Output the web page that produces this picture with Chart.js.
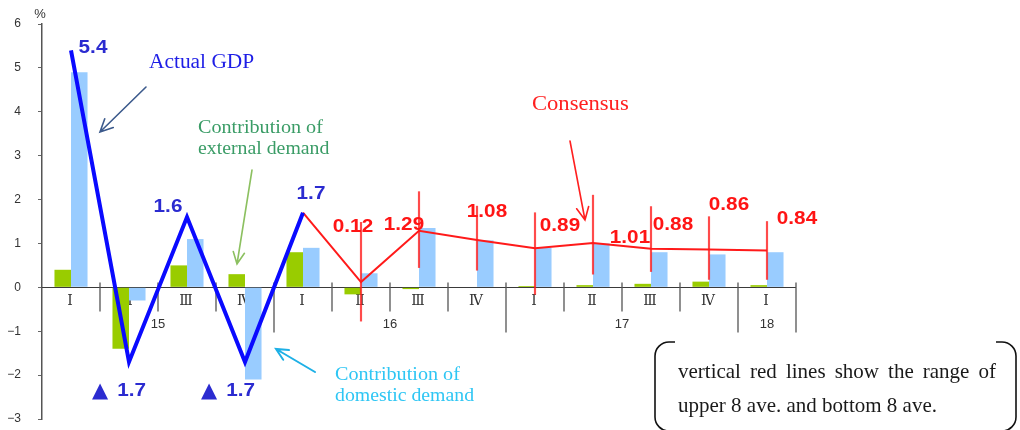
<!DOCTYPE html>
<html>
<head>
<meta charset="utf-8">
<title>GDP vs consensus</title>
<script src="https://cdn.jsdelivr.net/npm/chart.js@4.4.1/dist/chart.umd.min.js"></script>
<style>
  html, body { margin: 0; padding: 0; background: #ffffff; }
  #wrap { width: 1020px; height: 430px; }
</style>
</head>
<body>
<div id="wrap"><canvas id="chart" width="1020" height="430"></canvas></div>
<script>
// Quarter labels along the category axis; a new year starts at each "Ⅰ"
const quarters = ['Ⅰ', 'Ⅱ', 'Ⅲ', 'Ⅳ', 'Ⅰ', 'Ⅱ', 'Ⅲ', 'Ⅳ', 'Ⅰ', 'Ⅱ', 'Ⅲ', 'Ⅳ', 'Ⅰ'];
const years = ['15', '16', '17', '18'];

// Contributions to growth (% points)
const externalDemand = [0.4, -1.4, 0.5, 0.3, 0.8, -0.16, -0.04, 0, 0.03, 0.05, 0.08, 0.13, 0.05];
const domesticDemand = [4.9, -0.3, 1.1, -2.1, 0.9, 0.32, 1.35, 1.07, 0.9, 1.0, 0.8, 0.75, 0.8];

// Actual GDP (annualised q/q, %)
const actualGdp = [5.4, -1.7, 1.6, -1.7, 1.7];

// Consensus forecasts for the following quarters, with the spread of forecasters
const consensus = [0.12, 1.29, 1.08, 0.89, 1.01, 0.88, 0.86, 0.84];
const rangeHigh = [1.48, 2.18, 1.85, 1.7, 2.1, 1.84, 1.61, 1.5];
const rangeLow = [-0.77, 0.45, 0.39, -0.16, 0.3, 0.36, 0.18, 0.18];

// y-axis ticks
const yTicks = [-3, -2, -1, 0, 1, 2, 3, 4, 5, 6];

// ---- series built for the chart ----
const n = quarters.length;
const firstForecast = actualGdp.length;
const gdpLine = quarters.map((_, i) => i < actualGdp.length ? actualGdp[i] : null);
const consensusLine = quarters.map((_, i) => {
  if (i === firstForecast - 1) return actualGdp[i];
  if (i >= firstForecast) return consensus[i - firstForecast];
  return null;
});
const rangeBars = quarters.map((_, i) =>
  i >= firstForecast ? [rangeLow[i - firstForecast], rangeHigh[i - firstForecast]] : null);

// label offsets (px) from each point
const gdpLabelOffsets = [[22, -4], [-10, 28], [-19, -12], [-17, 28], [8, -20]];
const consensusLabelOffsets = [[-8, -55], [-15, -6], [10, -28], [25, -22], [37, -5], [22, -24], [20, -45], [30, -31]];

const NUM_FONT = 'bold 18px "Liberation Sans", Arial, sans-serif';
const TRI_FONT = '21px "DejaVu Sans", sans-serif';
const STRETCH = 1.15;

// text drawn with a horizontal stretch
function wideText(ctx, text, x, y, sx) {
  ctx.save();
  ctx.translate(x, y);
  ctx.scale(sx, 1);
  ctx.fillText(text, 0, 0);
  ctx.restore();
}

// GDP value label; negatives are written with a leading triangle
function gdpLabel(ctx, v, cx, cy) {
  const num = Math.abs(v).toFixed(1);
  ctx.save();
  ctx.textBaseline = 'alphabetic';
  ctx.textAlign = 'left';
  ctx.font = NUM_FONT;
  const numW = ctx.measureText(num).width * STRETCH;
  const base = cy + 6.5;
  if (v >= 0) {
    wideText(ctx, num, cx - numW / 2, base, STRETCH);
  } else {
    ctx.font = TRI_FONT;
    const triW = ctx.measureText('▲').width;
    const gap = 9;
    const x0 = cx - (triW + gap + numW) / 2;
    ctx.fillText('▲', x0, base + 1);
    ctx.font = NUM_FONT;
    wideText(ctx, num, x0 + triW + gap, base, STRETCH);
  }
  ctx.restore();
}

function arrow(ctx, x1, y1, x2, y2, color, width, head) {
  const a = Math.atan2(y2 - y1, x2 - x1);
  const h = head || 13;
  ctx.save();
  ctx.strokeStyle = color;
  ctx.lineWidth = width;
  ctx.lineCap = 'round';
  ctx.beginPath();
  ctx.moveTo(x1, y1);
  ctx.lineTo(x2, y2);
  ctx.moveTo(x2 - h * Math.cos(a - 0.45), y2 - h * Math.sin(a - 0.45));
  ctx.lineTo(x2, y2);
  ctx.lineTo(x2 - h * Math.cos(a + 0.45), y2 - h * Math.sin(a + 0.45));
  ctx.stroke();
  ctx.restore();
}

// words spread to fill the given width (never tighter than a plain space)
function justifiedLine(ctx, text, x, y, width, sx) {
  const words = text.split(' ');
  const wWidth = w => ctx.measureText(w).width * sx;
  const total = words.reduce((s, w) => s + wWidth(w), 0);
  const space = wWidth(' ');
  const gap = Math.max(space, (width - total) / (words.length - 1));
  let cx = x;
  words.forEach(w => {
    wideText(ctx, w, cx, y, sx);
    cx += wWidth(w) + gap;
  });
}

// Category axis drawn on the zero line: separators, quarter and year labels
const quarterAxis = {
  id: 'quarterAxis',
  beforeDatasetsDraw(chart) {
    const { ctx, scales: { x, y } } = chart;
    const y0 = Math.round(y.getPixelForValue(0)) + 0.5;
    const half = (x.getPixelForValue(1) - x.getPixelForValue(0)) / 2;
    ctx.save();
    ctx.strokeStyle = '#3a3a3a';
    ctx.lineWidth = 1;
    ctx.beginPath();
    ctx.moveTo(x.left, y0);
    ctx.lineTo(x.right, y0);
    ctx.stroke();

    ctx.strokeStyle = '#555';
    ctx.lineWidth = 1.3;
    ctx.beginPath();
    quarters.forEach((q, i) => {
      const xr = Math.round(x.getPixelForValue(i) + half);
      const yearEnd = i === n - 1 || quarters[i + 1] === 'Ⅰ';
      ctx.moveTo(xr, y0 - 5);
      ctx.lineTo(xr, y0 + (yearEnd ? 45 : 24));
    });
    ctx.stroke();

    ctx.fillStyle = '#333';
    ctx.textAlign = 'center';
    ctx.textBaseline = 'middle';
    ctx.font = '14px "DejaVu Serif", "Liberation Serif", serif';
    quarters.forEach((q, i) => ctx.fillText(q, x.getPixelForValue(i) - 1, y0 + 14));

    // group quarters into years
    const groups = [];
    quarters.forEach((q, i) => {
      if (q === 'Ⅰ' || groups.length === 0) groups.push([i, i]);
      else groups[groups.length - 1][1] = i;
    });
    ctx.font = '13px "Liberation Sans", Arial, sans-serif';
    groups.forEach((g, k) => {
      const cx = (x.getPixelForValue(g[0]) + x.getPixelForValue(g[1])) / 2;
      ctx.fillText(years[k], cx, y0 + 37);
    });
    ctx.restore();
  }
};

// Value labels, callouts and the note box
const annotations = {
  id: 'annotations',
  afterDatasetsDraw(chart) {
    const { ctx } = chart;
    ctx.save();

    const gdpMeta = chart.getDatasetMeta(3);
    ctx.fillStyle = '#2b2bd0';
    actualGdp.forEach((v, i) => {
      const p = gdpMeta.data[i];
      const o = gdpLabelOffsets[i];
      gdpLabel(ctx, v, p.x + o[0], p.y + o[1]);
    });

    ctx.textAlign = 'center';
    ctx.textBaseline = 'middle';
    ctx.font = NUM_FONT;
    const conMeta = chart.getDatasetMeta(2);
    ctx.fillStyle = '#ff1414';
    consensus.forEach((v, k) => {
      const p = conMeta.data[firstForecast + k];
      const o = consensusLabelOffsets[k];
      wideText(ctx, v.toFixed(2), p.x + o[0], p.y + o[1], STRETCH);
    });

    // percent unit
    ctx.fillStyle = '#333';
    ctx.font = '13px "Liberation Sans", Arial, sans-serif';
    ctx.fillText('%', 40, 14);

    // callouts
    ctx.textAlign = 'left';
    ctx.textBaseline = 'alphabetic';
    ctx.font = '20px "Liberation Serif", "Times New Roman", serif';
    ctx.fillStyle = '#1e1ee6';
    wideText(ctx, 'Actual GDP', 149, 68, 1.07);
    arrow(ctx, 146, 87, 100, 132, '#3c5a8c', 1.6, 14);

    ctx.font = '18px "Liberation Serif", "Times New Roman", serif';
    ctx.fillStyle = '#3a9c66';
    wideText(ctx, 'Contribution of', 198, 133, 1.12);
    wideText(ctx, 'external demand', 198, 154, 1.1);
    arrow(ctx, 252, 170, 237, 264, '#8cc060', 1.6, 13);

    ctx.fillStyle = '#2ec6f4';
    wideText(ctx, 'Contribution of', 335, 380, 1.12);
    wideText(ctx, 'domestic demand', 335, 401, 1.1);
    arrow(ctx, 315, 372, 276, 349, '#1eb0e6', 2, 13);

    ctx.font = '20px "Liberation Serif", "Times New Roman", serif';
    ctx.fillStyle = '#ff2020';
    wideText(ctx, 'Consensus', 532, 110, 1.13);
    arrow(ctx, 570, 141, 585, 220, '#ff2020', 1.6, 14);

    // note box: bracket-style rounded sides
    const bx0 = 655, bx1 = 1016, by0 = 342, by1 = 431, r = 14, stub = 6;
    ctx.strokeStyle = '#111';
    ctx.lineWidth = 1.6;
    ctx.beginPath();
    ctx.moveTo(bx0 + r + stub, by0);
    ctx.lineTo(bx0 + r, by0);
    ctx.arcTo(bx0, by0, bx0, by0 + r, r);
    ctx.lineTo(bx0, by1 - r);
    ctx.arcTo(bx0, by1, bx0 + r, by1, r);
    ctx.moveTo(bx1 - r - stub, by0);
    ctx.lineTo(bx1 - r, by0);
    ctx.arcTo(bx1, by0, bx1, by0 + r, r);
    ctx.lineTo(bx1, by1 - r);
    ctx.arcTo(bx1, by1, bx1 - r, by1, r);
    ctx.stroke();

    ctx.fillStyle = '#1a1a1a';
    ctx.font = '21px "Liberation Serif", "Times New Roman", serif';
    justifiedLine(ctx, 'vertical red lines show the range of', 678, 378, 318, 1.0);
    justifiedLine(ctx, 'upper 8 ave. and bottom 8 ave.', 678, 412, 259, 1.0);
    ctx.restore();
  }
};

new Chart(document.getElementById('chart'), {
  data: {
    labels: quarters,
    datasets: [
      {
        type: 'bar',
        label: 'Contribution of external demand',
        data: externalDemand,
        backgroundColor: '#99cc00',
        categoryPercentage: 0.57,
        barPercentage: 1.0,
        order: 5
      },
      {
        type: 'bar',
        label: 'Contribution of domestic demand',
        data: domesticDemand,
        backgroundColor: '#99ccff',
        categoryPercentage: 0.57,
        barPercentage: 1.0,
        order: 6
      },
      {
        type: 'line',
        label: 'Consensus',
        data: consensusLine,
        borderColor: '#ff1a1a',
        borderWidth: 2,
        pointRadius: 0,
        tension: 0,
        spanGaps: false,
        order: 2
      },
      {
        type: 'line',
        label: 'Actual GDP',
        data: gdpLine,
        borderColor: '#0a0aff',
        borderWidth: 4,
        pointRadius: 0,
        tension: 0,
        order: 1
      },
      {
        type: 'bar',
        label: 'Forecast range',
        data: rangeBars,
        backgroundColor: 'rgba(255, 30, 30, 0.8)',
        barThickness: 1.5,
        grouped: false,
        order: 3
      }
    ]
  },
  options: {
    responsive: false,
    animation: false,
    events: [],
    layout: { padding: { left: 0, top: 24, right: 224, bottom: 11 } },
    plugins: {
      legend: { display: false },
      tooltip: { enabled: false }
    },
    scales: {
      x: {
        type: 'category',
        offset: true,
        display: false
      },
      y: {
        min: yTicks[0],
        max: yTicks[yTicks.length - 1],
        afterBuildTicks: s => { s.ticks = yTicks.map(v => ({ value: v })); },
        afterFit: s => { s.width = 42; s.paddingTop = 0; s.paddingBottom = 0; },
        ticks: {
          color: '#333',
          padding: 17,
          font: { family: '"Liberation Sans", Arial, sans-serif', size: 12 },
          callback: v => v < 0 ? '−' + Math.abs(v) : String(v)
        },
        grid: { drawOnChartArea: false, drawTicks: true, tickLength: 4, color: '#666' },
        border: { color: '#555', width: 1.5 }
      }
    }
  },
  plugins: [quarterAxis, annotations]
});
</script>
</body>
</html>
